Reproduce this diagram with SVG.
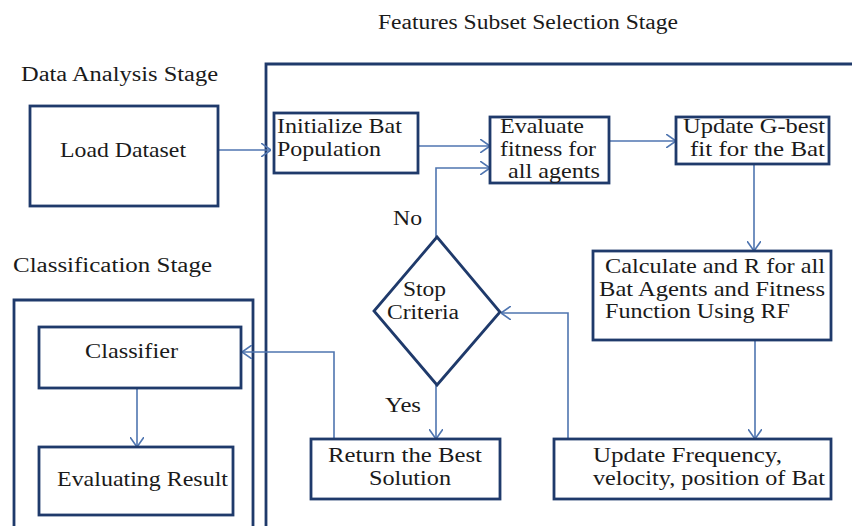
<svg xmlns="http://www.w3.org/2000/svg" width="852" height="526" viewBox="0 0 852 526" font-family="Liberation Serif, serif">
<defs>
<style>
.box{fill:#fff;stroke:#1f3a6b;stroke-width:2.8}
.frame{fill:none;stroke:#1f3a6b;stroke-width:2.8}
.conn{fill:none;stroke:#4f75b0;stroke-width:1.6}
text{fill:#1a1a1a;font-size:21px}
.title{font-size:20px}
.small{font-size:20px}
</style>
<marker id="arr" viewBox="0 0 10 14" refX="10" refY="7" markerWidth="10" markerHeight="14" markerUnits="userSpaceOnUse" orient="auto">
<path d="M0,0 L10,7 L0,14" fill="none" stroke="#4f75b0" stroke-width="1.6"/>
</marker>
</defs>
<rect width="852" height="526" fill="#fff"/>
<g id="titles">
<text class="title" x="378" y="29" textLength="300" lengthAdjust="spacingAndGlyphs">Features Subset Selection Stage</text>
<text class="title" x="21" y="81" textLength="197" lengthAdjust="spacingAndGlyphs">Data Analysis Stage</text>
<text class="title" x="13" y="272" textLength="199" lengthAdjust="spacingAndGlyphs">Classification  Stage</text>
</g>
<g id="frames">
<path class="frame" d="M266,526 V64 H852"/>
<path class="frame" d="M14,526 V300 H253 V526"/>
</g>
<g id="connectors">
<path class="conn" d="M218,150 H271" marker-end="url(#arr)"/>
<path class="conn" d="M418,146 H490" marker-end="url(#arr)"/>
<path class="conn" d="M609,141 H676" marker-end="url(#arr)"/>
<path class="conn" d="M754,164 V251" marker-end="url(#arr)"/>
<path class="conn" d="M755,340 V439" marker-end="url(#arr)"/>
<path class="conn" d="M568,439 V313 H501" marker-end="url(#arr)"/>
<path class="conn" d="M436,237 V168 H490" marker-end="url(#arr)"/>
<path class="conn" d="M436,385 V439" marker-end="url(#arr)"/>
<path class="conn" d="M334,439 V352 H242" marker-end="url(#arr)"/>
<path class="conn" d="M137,388 V447" marker-end="url(#arr)"/>
<text x="393" y="225" textLength="29" lengthAdjust="spacingAndGlyphs">No</text>
<text x="385" y="412" textLength="36" lengthAdjust="spacingAndGlyphs">Yes</text>
</g>
<g id="load-dataset">
<rect class="box" x="30" y="106" width="188" height="100"/>
<text x="60" y="157" textLength="126" lengthAdjust="spacingAndGlyphs">Load Dataset</text>
</g>
<g id="initialize">
<rect class="box" x="274" y="113" width="144" height="60"/>
<text x="277" y="133" textLength="125" lengthAdjust="spacingAndGlyphs">Initialize Bat</text>
<text x="277" y="156" textLength="104" lengthAdjust="spacingAndGlyphs">Population</text>
</g>
<g id="evaluate">
<rect class="box" x="490" y="117" width="119" height="66"/>
<text x="500" y="133" textLength="84" lengthAdjust="spacingAndGlyphs">Evaluate</text>
<text x="500" y="156" textLength="96" lengthAdjust="spacingAndGlyphs">fitness for</text>
<text x="508" y="178" textLength="92" lengthAdjust="spacingAndGlyphs">all agents</text>
</g>
<g id="update-gbest">
<rect class="box" x="676" y="117" width="153" height="47"/>
<text x="683" y="133" textLength="142" lengthAdjust="spacingAndGlyphs">Update G-best</text>
<text x="690" y="156" textLength="135" lengthAdjust="spacingAndGlyphs">fit for the Bat</text>
</g>
<g id="calculate">
<rect class="box" x="593" y="251" width="238" height="89"/>
<text x="605" y="273" textLength="220" lengthAdjust="spacingAndGlyphs">Calculate and R for all</text>
<text x="599" y="296" textLength="226" lengthAdjust="spacingAndGlyphs">Bat Agents and Fitness</text>
<text x="605" y="318" textLength="185" lengthAdjust="spacingAndGlyphs">Function Using RF</text>
</g>
<g id="update-frequency">
<rect class="box" x="554" y="439" width="277" height="60"/>
<text x="593" y="462" textLength="189" lengthAdjust="spacingAndGlyphs">Update Frequency,</text>
<text x="593" y="485" textLength="232" lengthAdjust="spacingAndGlyphs">velocity, position of Bat</text>
</g>
<g id="stop-criteria">
<path class="box" d="M437,237 L500,312 L437,385 L374,311 Z"/>
<text class="small" x="403" y="296" textLength="43" lengthAdjust="spacingAndGlyphs">Stop</text>
<text class="small" x="387" y="319" textLength="72" lengthAdjust="spacingAndGlyphs">Criteria</text>
</g>
<g id="return-best">
<rect class="box" x="311" y="439" width="189" height="60"/>
<text x="328" y="462" textLength="154" lengthAdjust="spacingAndGlyphs">Return the Best</text>
<text x="369" y="485" textLength="82" lengthAdjust="spacingAndGlyphs">Solution</text>
</g>
<g id="classifier">
<rect class="box" x="39" y="327" width="202" height="61"/>
<text x="85" y="358" textLength="93" lengthAdjust="spacingAndGlyphs">Classifier</text>
</g>
<g id="evaluating-result">
<rect class="box" x="39" y="447" width="194" height="68"/>
<text x="57" y="486" textLength="171" lengthAdjust="spacingAndGlyphs">Evaluating Result</text>
</g>
</svg>
